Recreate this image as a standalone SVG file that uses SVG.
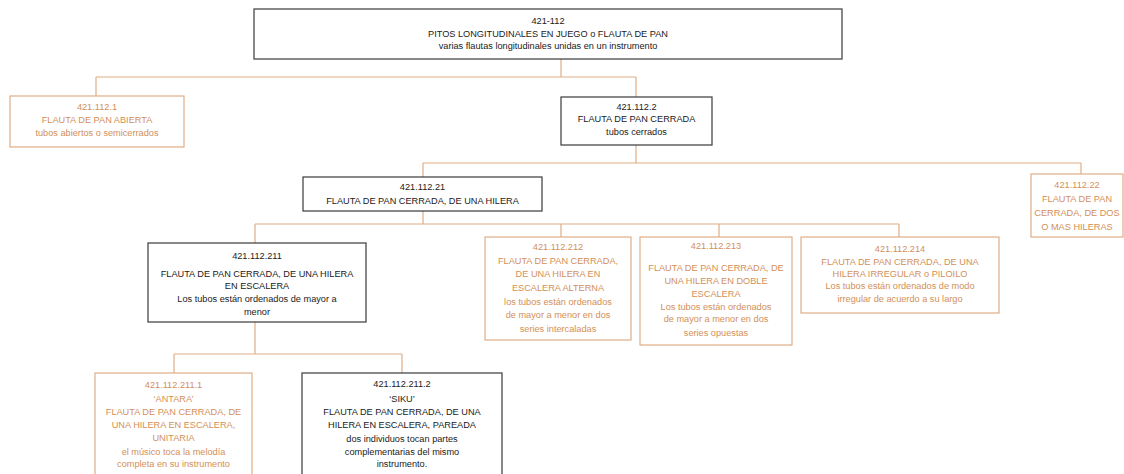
<svg xmlns="http://www.w3.org/2000/svg" width="1124" height="474" viewBox="0 0 1124 474">
<style>
.bk{fill:#fff;stroke:#3a3a3a;stroke-width:1.2}
.or{fill:#fff;stroke:#dfae86;stroke-width:1.2}
.t{font-family:"Liberation Sans",Arial,sans-serif;font-size:9.2px;text-anchor:middle}
.tb{fill:#1a1a1a}
.to{fill:#d38f58}
.c{fill:none;stroke:#dfae86;stroke-width:1.2}
</style>
<rect width="1124" height="474" fill="#fff"/>
<g id="connectors">
<path class="c" d="M561 59V77M96 77H636M96 77V96M636 77V97"/>
<path class="c" d="M636 145V163M423 163H1081M423 163V177M1081 163V174"/>
<path class="c" d="M423 211V224M255 224H899M255 224V243M561 224V237M719 224V237M899 224V237"/>
<path class="c" d="M255 322V354M174 354H402M174 354V373M402 354V373"/>
</g>
<g id="n421-112">
<rect class="bk" x="254" y="9" width="588" height="50"/>
<text class="t tb"><tspan x="548" y="23.5">421-112</tspan><tspan x="548" y="36.5">PITOS LONGITUDINALES EN JUEGO o FLAUTA DE PAN</tspan><tspan x="548" y="49">varias flautas longitudinales unidas en un instrumento</tspan></text>
</g>
<g id="n421.112.1">
<rect class="or" x="10" y="96" width="174" height="51"/>
<text class="t to"><tspan x="97" y="110">421.112.1</tspan><tspan x="97" y="123">FLAUTA DE PAN ABIERTA</tspan><tspan x="97" y="136">tubos abiertos o semicerrados</tspan></text>
</g>
<g id="n421.112.2">
<rect class="bk" x="561" y="97" width="151" height="48"/>
<text class="t tb"><tspan x="636.5" y="109.5">421.112.2</tspan><tspan x="636.5" y="122">FLAUTA DE PAN CERRADA</tspan><tspan x="636.5" y="134.5">tubos cerrados</tspan></text>
</g>
<g id="n421.112.21">
<rect class="bk" x="303" y="177" width="239" height="34"/>
<text class="t tb"><tspan x="422.5" y="189.5">421.112.21</tspan><tspan x="422.5" y="203.5">FLAUTA DE PAN CERRADA, DE UNA HILERA</tspan></text>
</g>
<g id="n421.112.22">
<rect class="or" x="1031" y="174" width="92" height="63"/>
<text class="t to"><tspan x="1077" y="187.5">421.112.22</tspan><tspan x="1077" y="202">FLAUTA DE PAN</tspan><tspan x="1077" y="216">CERRADA, DE DOS</tspan><tspan x="1077" y="230">O MAS HILERAS</tspan></text>
</g>
<g id="n421.112.211">
<rect class="bk" x="148" y="243" width="218" height="79"/>
<text class="t tb"><tspan x="257" y="258.5">421.112.211</tspan><tspan x="257" y="276.5">FLAUTA DE PAN CERRADA, DE UNA HILERA</tspan><tspan x="257" y="288.5">EN ESCALERA</tspan><tspan x="257" y="301.5">Los tubos están ordenados de mayor a</tspan><tspan x="257" y="314.5">menor</tspan></text>
</g>
<g id="n421.112.212">
<rect class="or" x="485" y="237" width="146" height="103"/>
<text class="t to"><tspan x="558" y="249.5">421.112.212</tspan><tspan x="558" y="263.5">FLAUTA DE PAN CERRADA,</tspan><tspan x="558" y="277">DE UNA HILERA EN</tspan><tspan x="558" y="290.5">ESCALERA ALTERNA</tspan><tspan x="558" y="304.5">los tubos están ordenados</tspan><tspan x="558" y="318">de mayor a menor en dos</tspan><tspan x="558" y="332">series intercaladas</tspan></text>
</g>
<g id="n421.112.213">
<rect class="or" x="640" y="237" width="152" height="108"/>
<text class="t to"><tspan x="716" y="249">421.112.213</tspan><tspan x="716" y="270.5">FLAUTA DE PAN CERRADA, DE</tspan><tspan x="716" y="283.5">UNA HILERA EN DOBLE</tspan><tspan x="716" y="296.5">ESCALERA</tspan><tspan x="716" y="309.5">Los tubos están ordenados</tspan><tspan x="716" y="322">de mayor a menor en dos</tspan><tspan x="716" y="335.5">series opuestas</tspan></text>
</g>
<g id="n421.112.214">
<rect class="or" x="801" y="237" width="198" height="76"/>
<text class="t to"><tspan x="900" y="251.5">421.112.214</tspan><tspan x="900" y="264.5">FLAUTA DE PAN CERRADA, DE UNA</tspan><tspan x="900" y="276.5">HILERA IRREGULAR o PILOILO</tspan><tspan x="900" y="289">Los tubos están ordenados de modo</tspan><tspan x="900" y="301.5">irregular de acuerdo a su largo</tspan></text>
</g>
<g id="n421.112.211.1">
<rect class="or" x="95" y="373" width="157" height="110"/>
<text class="t to"><tspan x="173.5" y="387.5">421.112.211.1</tspan><tspan x="173.5" y="401.5">‘ANTARA’</tspan><tspan x="173.5" y="415">FLAUTA DE PAN CERRADA, DE</tspan><tspan x="173.5" y="428">UNA HILERA EN ESCALERA,</tspan><tspan x="173.5" y="441">UNITARIA</tspan><tspan x="173.5" y="454.5">el músico toca la melodía</tspan><tspan x="173.5" y="467">completa en su instrumento</tspan></text>
</g>
<g id="n421.112.211.2">
<rect class="bk" x="302" y="373" width="200" height="110"/>
<text class="t tb"><tspan x="402" y="386.5">421.112.211.2</tspan><tspan x="402" y="401.5">‘SIKU’</tspan><tspan x="402" y="415">FLAUTA DE PAN CERRADA, DE UNA</tspan><tspan x="402" y="427.5">HILERA EN ESCALERA, PAREADA</tspan><tspan x="402" y="441.5">dos individuos tocan partes</tspan><tspan x="402" y="454.5">complementarias del mismo</tspan><tspan x="402" y="467">instrumento.</tspan></text>
</g>
</svg>
